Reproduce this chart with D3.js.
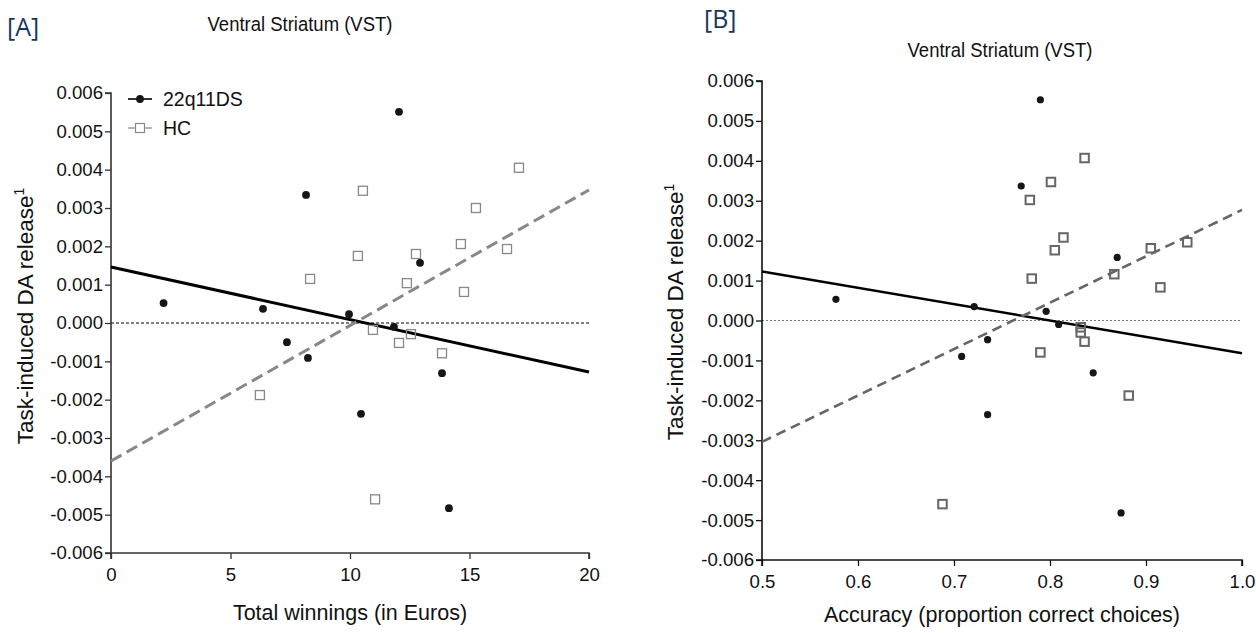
<!DOCTYPE html>
<html><head><meta charset="utf-8">
<script src="https://cdn.jsdelivr.net/npm/d3@7"></script>
<style>
body{margin:0;background:#fff;}
text{font-family:"Liberation Sans",Arial,sans-serif;fill:#111;}
</style></head>
<body>
<svg id="chart" width="1256" height="633"></svg>
<script>
// ---------- DATA ----------
// Panel A: Total winnings (in Euros)
const winnings22q = [2.2, 6.36, 8.16, 9.96, 7.36, 8.24, 10.46, 12.05, 12.93, 11.84, 13.85, 14.14];
const release22qA = [0.00052, 0.00037, 0.00334, 0.00023, -0.00050, -0.00091, -0.00237, 0.00551, 0.00157, -0.00010, -0.00131, -0.00483];
const winningsHC = [8.33, 10.33, 10.54, 17.07, 15.27, 14.64, 16.57, 12.76, 12.38, 14.77, 10.96, 12.55, 12.05, 13.85, 11.05, 6.23];
const releaseHCA = [0.00115, 0.00175, 0.00345, 0.00405, 0.00300, 0.00206, 0.00193, 0.00180, 0.00104, 0.00081, -0.00018, -0.00029, -0.00052, -0.00079, -0.00460, -0.00188];
const fitA22qX = [0, 20], fitA22qY = [0.00146, -0.00128];
const fitAHCX = [0, 20], fitAHCY = [-0.00360, 0.00347];

// Panel B: Accuracy (proportion correct choices)
const accuracy22q = [0.577, 0.721, 0.790, 0.770, 0.870, 0.796, 0.809, 0.708, 0.735, 0.735, 0.845, 0.874];
const release22qB = [0.00053, 0.00035, 0.00553, 0.00337, 0.00158, 0.00023, -0.00010, -0.00090, -0.00048, -0.00236, -0.00131, -0.00482];
const accuracyHC = [0.836, 0.801, 0.779, 0.814, 0.805, 0.781, 0.905, 0.943, 0.867, 0.915, 0.832, 0.832, 0.836, 0.790, 0.882, 0.688];
const releaseHCB = [0.00407, 0.00347, 0.00302, 0.00208, 0.00176, 0.00105, 0.00181, 0.00196, 0.00116, 0.00083, -0.00017, -0.00030, -0.00053, -0.00080, -0.00188, -0.00460];
const fitB22qX = [0.5, 1.0], fitB22qY = [0.00123, -0.00082];
const fitBHCX = [0.5, 1.0], fitBHCY = [-0.00304, 0.00277];

const yTickValues = [-0.006, -0.005, -0.004, -0.003, -0.002, -0.001, 0, 0.001, 0.002, 0.003, 0.004, 0.005, 0.006];
const xTicksA = [0, 5, 10, 15, 20];
const xTicksB = [0.5, 0.6, 0.7, 0.8, 0.9, 1.0];
const seriesNames = ["22q11DS", "HC"];
const titleText = "Ventral Striatum (VST)";
const yLabel = "Task-induced DA release";
const xLabelA = "Total winnings (in Euros)";
const xLabelB = "Accuracy (proportion correct choices)";

// ---------- DRAW ----------
const svg = d3.select("#chart");
const fmtY = d => (Math.abs(d) < 1e-12 ? 0 : d).toFixed(3);

function panel(cfg) {
  const g = svg.append("g");
  const x = d3.scaleLinear().domain(cfg.xDomain).range(cfg.xRange);
  const y = d3.scaleLinear().domain([-0.006, 0.006]).range(cfg.yRange);

  // zero reference line
  g.append("line")
    .attr("x1", x(cfg.xDomain[0])).attr("x2", x(cfg.xDomain[1]))
    .attr("y1", y(0)).attr("y2", y(0))
    .attr("stroke", cfg.zeroColor).attr("stroke-width", 1)
    .attr("stroke-dasharray", cfg.zeroDash);

  // axes
  const yAxis = d3.axisLeft(y).tickValues(yTickValues).tickFormat(fmtY).tickSize(6).tickPadding(2);
  const xAxis = d3.axisBottom(x).tickValues(cfg.xTicks).tickFormat(cfg.xFmt).tickSize(6).tickPadding(9);
  const ya = g.append("g").attr("transform", `translate(${cfg.xRange[0]},0)`).call(yAxis);
  const xa = g.append("g").attr("transform", `translate(0,${cfg.yRange[0]})`).call(xAxis);
  [ya, xa].forEach(a => {
    a.selectAll("path").attr("stroke", cfg.axisColor).attr("stroke-width", 1.6);
    a.selectAll("line").attr("stroke", cfg.axisColor).attr("stroke-width", 1.3);
    a.selectAll("text").attr("font-size", 18.6).attr("fill", "#111")
      .style("font-family", '"Liberation Sans", Arial, sans-serif');
  });
  ya.select(".domain").attr("d", `M-6,${cfg.yRange[1]}H0V${cfg.yRange[0]}H-6`);
  xa.select(".domain").attr("d", `M${cfg.xRange[0]},6V0H${cfg.xRange[1]}V6`);

  // fit lines
  const line = d3.line().x(d => x(d[0])).y(d => y(d[1]));
  g.append("path").datum(d3.zip(cfg.fit22qX, cfg.fit22qY)).attr("d", line)
    .attr("fill", "none").attr("stroke", "#000").attr("stroke-width", cfg.solidW);
  g.append("path").datum(d3.zip(cfg.fitHCX, cfg.fitHCY)).attr("d", line)
    .attr("fill", "none").attr("stroke", cfg.hcColor).attr("stroke-width", cfg.dashW)
    .attr("stroke-dasharray", cfg.dashArr);

  // HC squares
  const s = cfg.sq;
  g.selectAll("rect.hc").data(d3.zip(cfg.hcX, cfg.hcY)).join("rect").attr("class", "hc")
    .attr("x", d => x(d[0]) - s / 2).attr("y", d => y(d[1]) - s / 2)
    .attr("width", s).attr("height", s)
    .attr("fill", "#fff").attr("fill-opacity", 0).attr("stroke", cfg.hcColor).attr("stroke-width", cfg.sqW);

  // 22q11DS circles
  g.selectAll("circle.p22").data(d3.zip(cfg.p22X, cfg.p22Y)).join("circle").attr("class", "p22")
    .attr("cx", d => x(d[0])).attr("cy", d => y(d[1])).attr("r", cfg.r).attr("fill", "#161616");

  // title
  g.append("text").attr("transform", `translate(${cfg.titleX},${cfg.titleY}) scale(1,1.12)`).attr("text-anchor", "middle")
    .attr("font-size", 18.5).text(titleText);
  // panel letter
  g.append("text").attr("x", cfg.letterX).attr("y", cfg.letterY)
    .attr("font-size", 25).style("font-family", '"Open Sans", "Noto Sans", sans-serif')
    .style("fill", "#17365d").text(cfg.letter);
  // y label
  const yl = g.append("text").attr("transform", `translate(${cfg.yLabelX},${cfg.yLabelY}) rotate(-90)`)
    .attr("text-anchor", "middle").attr("font-size", 22.5);
  yl.append("tspan").text(yLabel);
  yl.append("tspan").attr("dy", -9).attr("font-size", 14).text("1");
  // x label
  g.append("text").attr("x", (cfg.xRange[0] + cfg.xRange[1]) / 2 + cfg.xLabelDx).attr("y", cfg.xLabelY)
    .attr("text-anchor", "middle").attr("font-size", cfg.xLabelSize).text(cfg.xLabel);
  return {g, x, y};
}

const A = panel({
  xDomain: [0, 20], xRange: [111, 589], yRange: [553, 93], xTicks: xTicksA, xFmt: d3.format("d"),
  axisColor: "#333", zeroColor: "#000", zeroDash: "3,2",
  fit22qX: fitA22qX, fit22qY: fitA22qY, fitHCX: fitAHCX, fitHCY: fitAHCY,
  solidW: 3, dashW: 3, dashArr: "12,6", hcColor: "#888",
  hcX: winningsHC, hcY: releaseHCA, p22X: winnings22q, p22Y: release22qA,
  sq: 9, sqW: 1.3, r: 3.9,
  titleX: 300, titleY: 31, letter: "[A]", letterX: 7, letterY: 36,
  yLabelX: 33, yLabelY: 316, xLabel: xLabelA, xLabelY: 620, xLabelDx: 0, xLabelSize: 21.5
});

const B = panel({
  xDomain: [0.5, 1.0], xRange: [762, 1242], yRange: [560, 81], xTicks: xTicksB, xFmt: d3.format(".1f"),
  axisColor: "#111", zeroColor: "#777", zeroDash: "2,2",
  fit22qX: fitB22qX, fit22qY: fitB22qY, fitHCX: fitBHCX, fitHCY: fitBHCY,
  solidW: 2.5, dashW: 2.6, dashArr: "10,6", hcColor: "#666",
  hcX: accuracyHC, hcY: releaseHCB, p22X: accuracy22q, p22Y: release22qB,
  sq: 8.5, sqW: 2, r: 3.6,
  titleX: 1000, titleY: 57, letter: "[B]", letterX: 704, letterY: 28,
  yLabelX: 683, yLabelY: 312, xLabel: xLabelB, xLabelY: 622, xLabelDx: 0, xLabelSize: 21.5
});

// legend (panel A)
const leg = A.g.append("g");
const legY = [99, 128];
seriesNames.forEach((name, i) => {
  const yy = legY[i];
  leg.append("line").attr("x1", 128).attr("x2", 152).attr("y1", yy).attr("y2", yy)
    .attr("stroke", i === 0 ? "#000" : "#888").attr("stroke-width", i === 0 ? 1.6 : 1.2);
  if (i === 0) leg.append("circle").attr("cx", 140).attr("cy", yy).attr("r", 3.9).attr("fill", "#161616");
  else leg.append("rect").attr("x", 135.5).attr("y", yy - 4.5).attr("width", 9).attr("height", 9)
    .attr("fill", "#fff").attr("stroke", "#888").attr("stroke-width", 1.2);
  leg.append("text").attr("x", 163).attr("y", yy + 7).attr("font-size", 19.5).text(name);
});
</script>
</body></html>
